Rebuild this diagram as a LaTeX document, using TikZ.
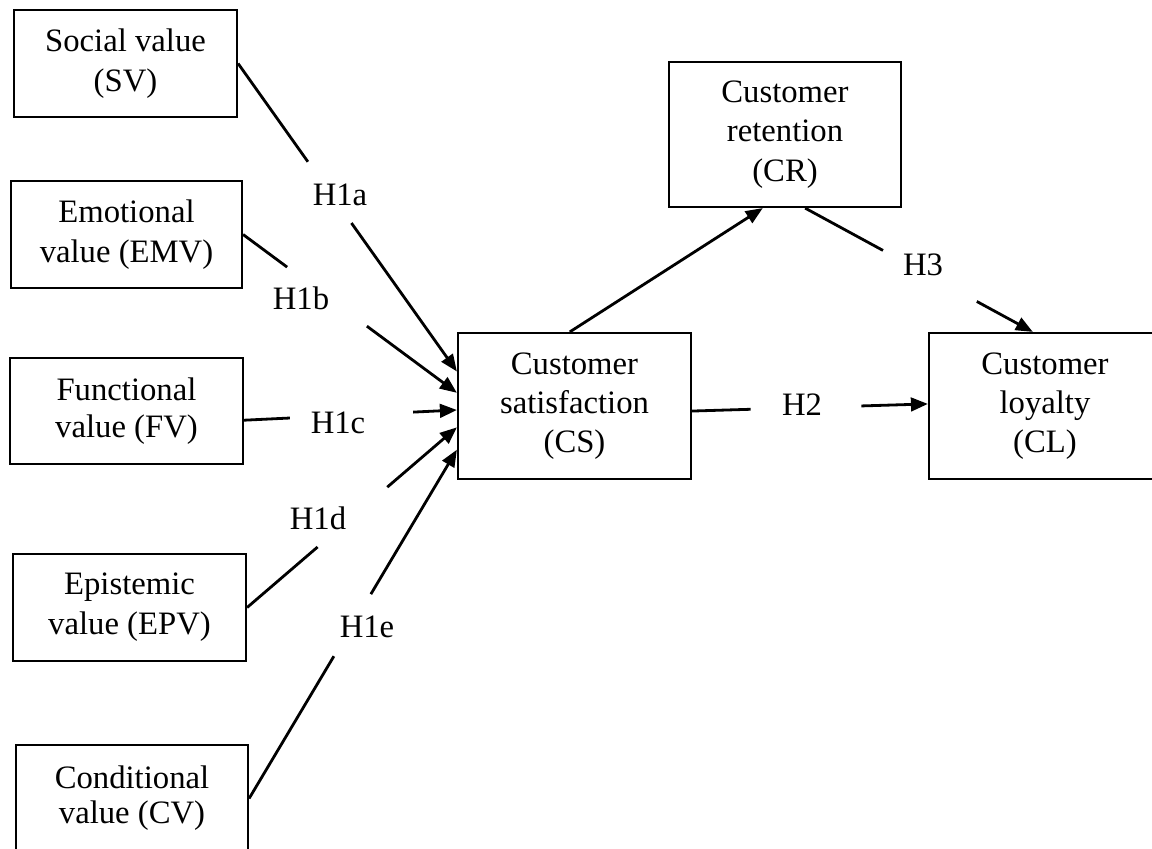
\documentclass[tikz,border=0pt]{standalone}
\usepackage{fontspec}
\setmainfont{Liberation Serif}
\usetikzlibrary{calc,arrows.meta}
\begin{document}
\begin{tikzpicture}[x=0.5pt,y=-0.5pt,
  box/.style={draw, line width=1.1pt, rectangle, align=center, inner sep=0pt,
    font=\fontsize{16.35}{19.6}\selectfont},
  lbl/.style={inner sep=0pt, font=\fontsize{16.35}{19.6}\selectfont},
  con/.style={line width=1.4pt},
  arr/.style={con, -{Triangle[length=8.5pt,width=6.8pt]}}]
\useasboundingbox (0,0) rectangle (1152,848);
% boxes
\node[box, minimum width=111.5pt, minimum height=53.5pt, font=\fontsize{16.35}{20.3}\selectfont] (SV) at (125.5,63.5) {Social value\\(SV)};
\node[box, minimum width=115.5pt, minimum height=53.5pt, font=\fontsize{16.35}{20.3}\selectfont] (EMV) at (126.5,234.5) {Emotional\\value (EMV)};
\node[box, minimum width=116.5pt, minimum height=53pt, font=\fontsize{16.35}{18.4}\selectfont] (FV) at (126.5,411) {Functional\\value (FV)};
\node[box, minimum width=116.5pt, minimum height=53.5pt, font=\fontsize{16.35}{20}\selectfont] (EPV) at (129.5,607.5) {Epistemic\\value (EPV)};
\node[box, minimum width=116pt, minimum height=53.5pt, font=\fontsize{16.35}{17.6}\selectfont] (CV) at (132,798.5) {Conditional\\value (CV)};
\node[box, minimum width=116.5pt, minimum height=73pt] (CS) at (574.5,406) {Customer\\satisfaction\\(CS)};
\node[box, minimum width=116pt, minimum height=72.5pt] (CR) at (785,134.5) {Customer\\retention\\(CR)};
\node[box, minimum width=116pt, minimum height=73pt] (CL) at (1045,406) {Customer\\loyalty\\(CL)};
% end points on boxes
\coordinate (sFV) at ($(FV.north east)!0.585!(FV.south east)$);
\coordinate (t1a) at ($(CS.north west)!0.267!(CS.south west)$);
\coordinate (t1b) at ($(CS.north west)!0.411!(CS.south west)$);
\coordinate (t1c) at ($(CS.north west)!0.527!(CS.south west)$);
\coordinate (t1d) at ($(CS.north west)!0.644!(CS.south west)$);
\coordinate (t1e) at ($(CS.north west)!0.795!(CS.south west)$);
\coordinate (sCS2) at ($(CS.north east)!0.534!(CS.south east)$);
\coordinate (tCL2) at ($(CL.north west)!0.486!(CL.south west)$);
\coordinate (sCSr) at ($(CS.north west)!0.48!(CS.north east)$);
\coordinate (tCR) at ($(CR.south west)!0.405!(CR.south east)$);
\coordinate (sCR3) at ($(CR.south west)!0.586!(CR.south east)$);
\coordinate (tCL3) at ($(CL.north west)!0.448!(CL.north east)$);
% gaps
\path (SV.east) -- (t1a) coordinate[pos=0.319] (g1a) coordinate[pos=0.518] (h1a);
\path (EMV.east) -- (t1b) coordinate[pos=0.206] (g1b) coordinate[pos=0.579] (h1b);
\path (sFV) -- (t1c) coordinate[pos=0.215] (g1c) coordinate[pos=0.794] (h1c);
\path (EPV.east) -- (t1d) coordinate[pos=0.336] (g1d) coordinate[pos=0.668] (h1d);
\path (CV.east) -- (t1e) coordinate[pos=0.408] (g1e) coordinate[pos=0.586] (h1e);
\path (sCS2) -- (tCL2) coordinate[pos=0.248] (g2) coordinate[pos=0.718] (h2);
\path (sCR3) -- (tCL3) coordinate[pos=0.342] (g3) coordinate[pos=0.754] (h3);
% connectors
\draw[con] (SV.east) -- (g1a); \draw[arr] (h1a) -- (t1a);
\draw[con] (EMV.east) -- (g1b); \draw[arr] (h1b) -- (t1b);
\draw[con] (sFV) -- (g1c); \draw[arr] (h1c) -- (t1c);
\draw[con] (EPV.east) -- (g1d); \draw[arr] (h1d) -- (t1d);
\draw[con] (CV.east) -- (g1e); \draw[arr] (h1e) -- (t1e);
\draw[con] (sCS2) -- (g2); \draw[arr] (h2) -- (tCL2);
\draw[arr] (sCSr) -- (tCR);
\draw[con] (sCR3) -- (g3); \draw[arr] (h3) -- (tCL3);
% labels
\node[lbl] (L1a) at (340,195) {H1a};
\node[lbl] (L1b) at (301,298) {H1b};
\node[lbl] (L1c) at (338,423) {H1c};
\node[lbl] (L1d) at (318,518) {H1d};
\node[lbl] (L1e) at (367,627) {H1e};
\node[lbl] (L2) at (802,405) {H2};
\node[lbl] (L3) at (923,265) {H3};
\end{tikzpicture}
\end{document}
